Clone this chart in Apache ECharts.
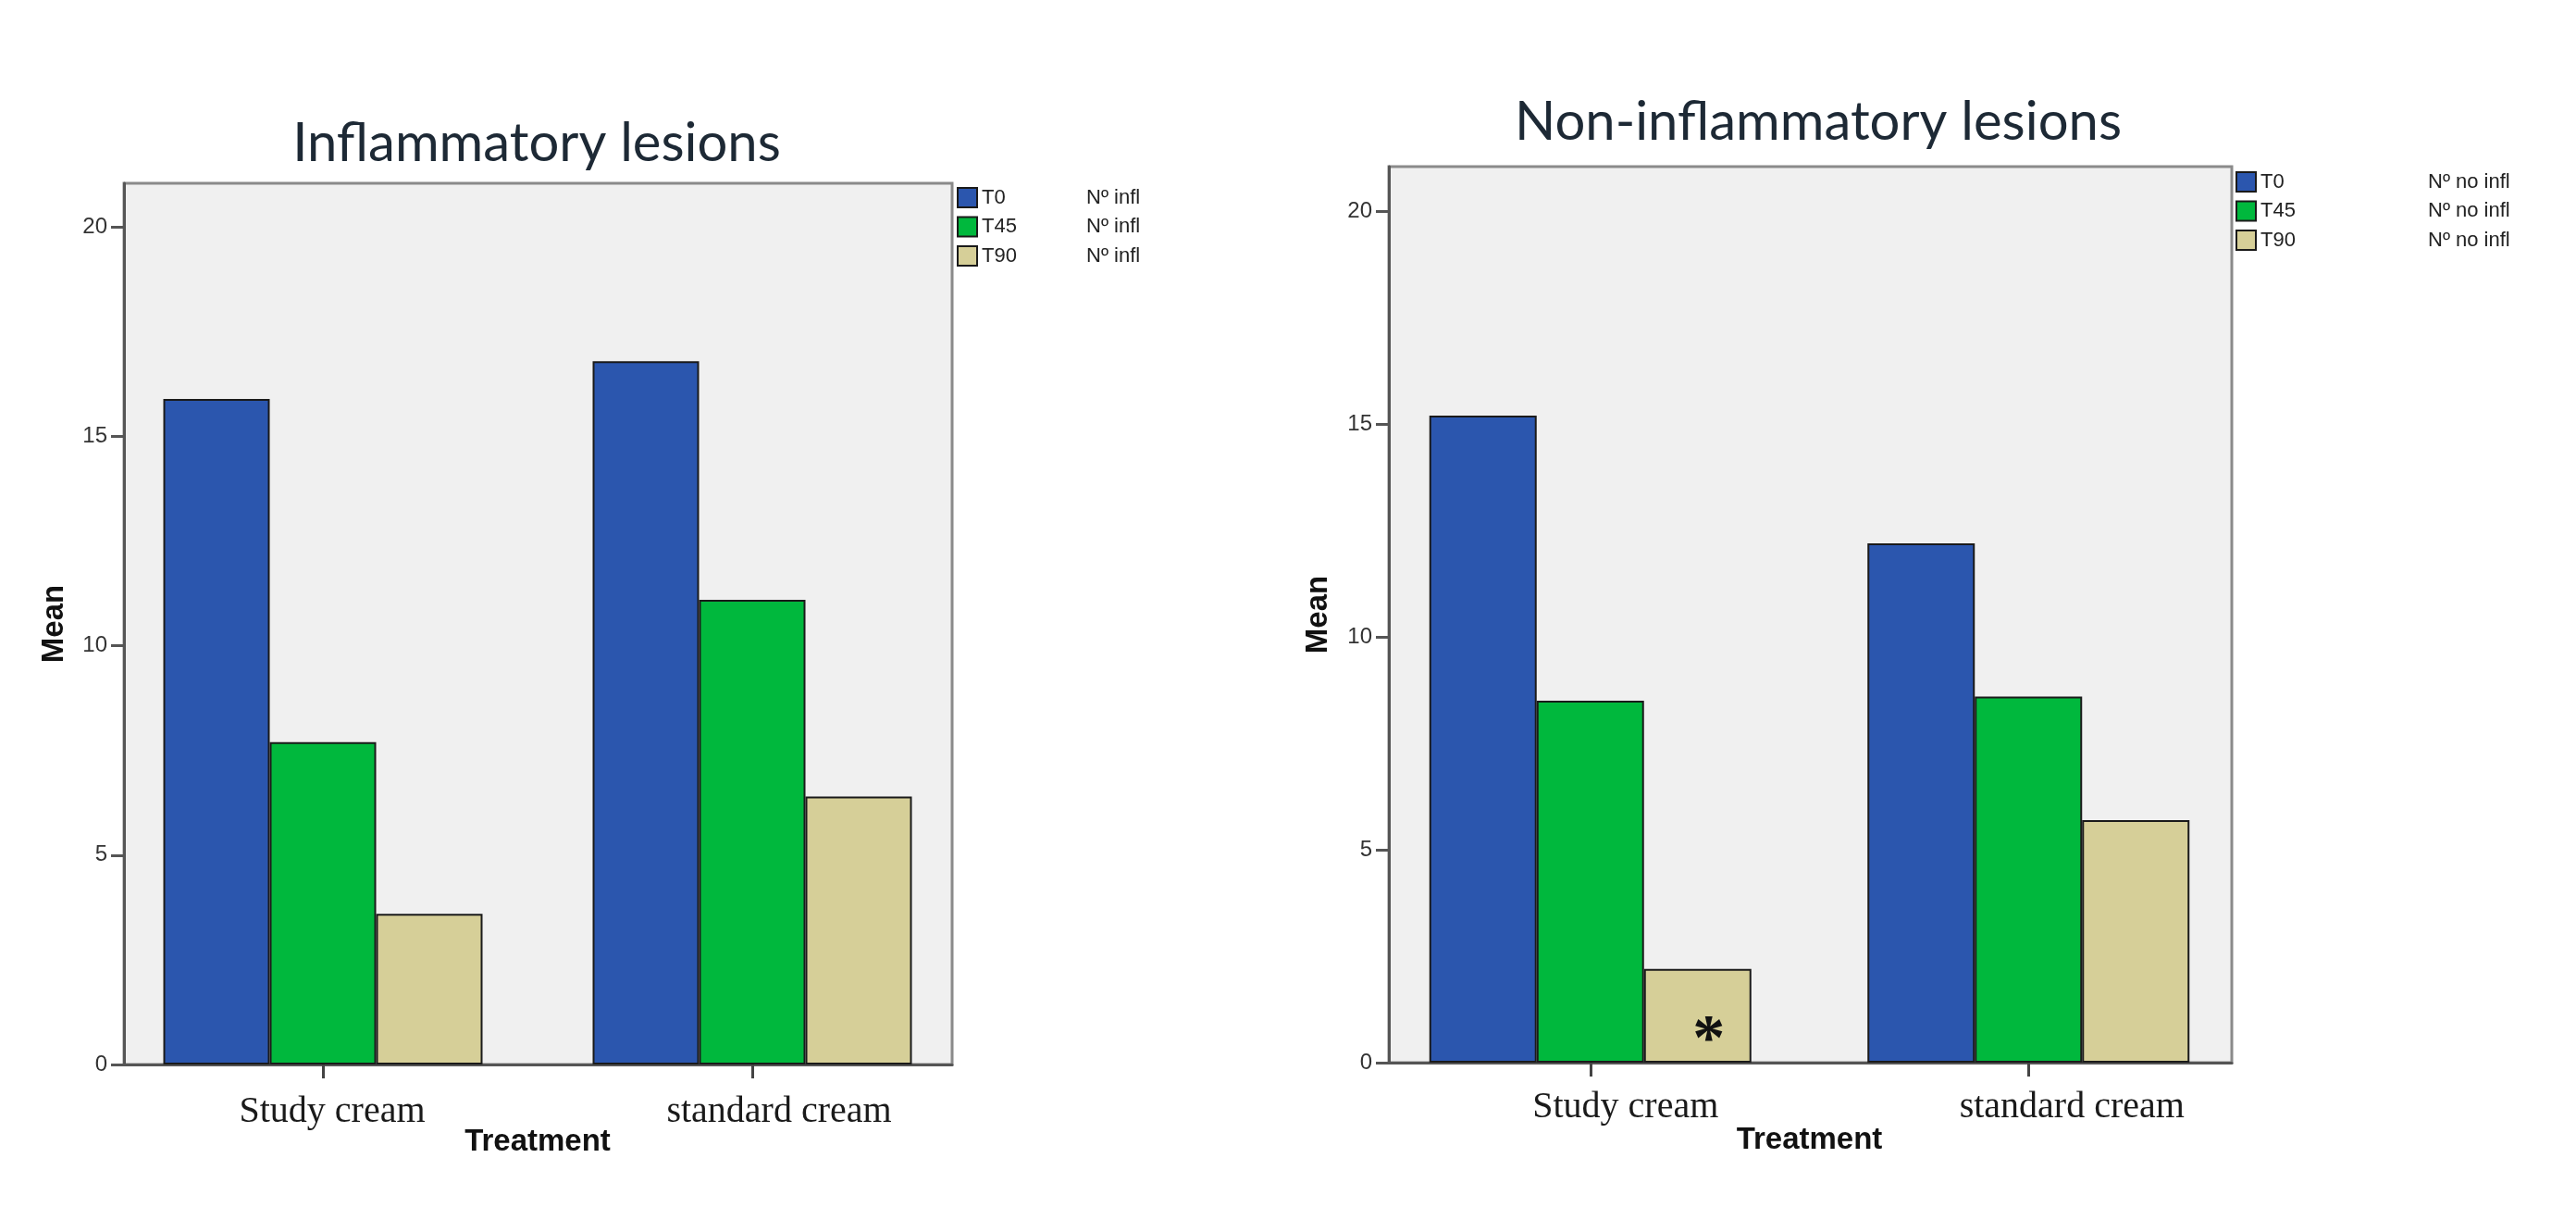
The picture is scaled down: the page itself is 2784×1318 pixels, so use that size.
<!DOCTYPE html>
<html><head><meta charset="utf-8">
<script src="https://cdn.jsdelivr.net/npm/echarts@6/dist/echarts.min.js"></script>
<style>html,body{margin:0;padding:0;background:#fff}#c{width:2784px;height:1318px}</style>
</head><body><div id="c"></div>
<script>
const categories = ['Study cream', 'standard cream'];
const seriesNames = ['T0', 'T45', 'T90'];
const inflT0 = [15.9, 16.8];
const inflT45 = [7.7, 11.1];
const inflT90 = [3.6, 6.4];
const nonInflT0 = [15.2, 12.2];
const nonInflT45 = [8.5, 8.6];
const nonInflT90 = [2.2, 5.7];
const nonInflT90Marks = ['*', ''];
const yTicks = [0, 5, 10, 15, 20];
const yMax = 21.05;
const titles = ['Inflammatory lesions', 'Non-inflammatory lesions'];
const legendSuffix = ['Nº infl', 'Nº no infl'];
const colors = ['#2b56ae', '#00b83d', '#d6cf98'];

const AX = '#555';
const sans = 'Liberation Sans, Arial, sans-serif';
const serif = 'Liberation Serif, Times New Roman, serif';

function frameX(i) {
  return { gridIndex: i, type: 'value', min: 0, max: 1,
    axisLine: { show: true, onZero: false, lineStyle: { color: AX, width: 3 } },
    axisTick: { show: false }, axisLabel: { show: false }, splitLine: { show: false } };
}
function frameY(i, gap) {
  return { gridIndex: i, type: 'value', min: 0, max: yMax, interval: 5,
    axisLine: { show: true, lineStyle: { color: AX, width: 3 } },
    axisTick: { show: true, customValues: yTicks, length: 14, lineStyle: { color: AX, width: 3 } },
    axisLabel: { customValues: yTicks, fontSize: 24, color: '#333', margin: 18, fontFamily: sans },
    splitLine: { show: false },
    name: 'Mean', nameLocation: 'middle', nameGap: gap, nameMoveOverlap: false,
    nameTextStyle: { fontSize: 33, fontWeight: 'bold', color: '#111', fontFamily: sans } };
}
function barX(i, margin, pads) {
  return { gridIndex: i, type: 'category', data: categories,
    axisLine: { show: false },
    axisTick: { show: true, alignWithLabel: true, length: 15, lineStyle: { color: '#444', width: 3 } },
    axisLabel: { margin: margin, interval: 0,
      formatter: (v, idx) => '{c' + idx + '|' + v + '}',
      rich: {
        c0: { fontSize: 40, fontFamily: serif, color: '#1a1a1a', lineHeight: 44, padding: [0, 0, 0, pads[0]] },
        c1: { fontSize: 40, fontFamily: serif, color: '#1a1a1a', lineHeight: 44, padding: [0, 0, 0, pads[1]] }
      } },
    name: 'Treatment', nameLocation: 'middle', nameGap: 67, nameMoveOverlap: false,
    nameTextStyle: { fontSize: 33, fontWeight: 'bold', color: '#111', fontFamily: sans } };
}
function barY(i) {
  return { gridIndex: i, type: 'value', min: 0, max: yMax, show: false, splitLine: { show: false } };
}
function bars(name, data, ci, xi, w) {
  return { type: 'bar', name: name, xAxisIndex: xi, yAxisIndex: xi, data: data,
    barWidth: w, barGap: '0%',
    itemStyle: { color: colors[ci], borderColor: '#1a1a1a', borderWidth: 2 } };
}
function legend(i, left, top, nameW) {
  return { orient: 'vertical', left: left, top: top, padding: 0, itemWidth: 21, itemHeight: 21, itemGap: 8.5,
    icon: 'rect', data: seriesNames, selectedMode: false,
    itemStyle: { borderColor: '#1a1a1a', borderWidth: 2 },
    formatter: n => '{n|' + n + '}{s|' + legendSuffix[i] + '}',
    textStyle: { fontSize: 22, color: '#222', fontFamily: sans,
      rich: { n: { width: nameW, fontSize: 22, fontFamily: sans, color: '#222' },
              s: { fontSize: 22, fontFamily: sans, color: '#222' } } } };
}

const t90b = nonInflT90.map((v, k) => ({
  value: v,
  label: { show: nonInflT90Marks[k] !== '', formatter: nonInflT90Marks[k], position: 'insideBottom',
    distance: -13, offset: [12, 0], fontSize: 70, fontWeight: 'bold', fontFamily: serif, color: '#111' }
}));

const option = {
  animation: false,
  backgroundColor: '#fff',
  title: [
    { text: titles[0], left: 580, top: 126, textAlign: 'center', padding: 0,
      textStyle: { fontSize: 58, fontWeight: 'normal', color: '#1d2935', fontFamily: 'Lato, sans-serif' } },
    { text: titles[1], left: 1965, top: 103, textAlign: 'center', padding: 0,
      textStyle: { fontSize: 58, fontWeight: 'normal', color: '#1d2935', fontFamily: 'Lato, sans-serif' } }
  ],
  legend: [legend(0, 1034, 202, 113), legend(1, 2416, 185, 181)],
  grid: [
    { left: 134, top: 198, width: 895, height: 952, show: true, backgroundColor: '#f0f0f0', borderColor: '#8a8a8a', borderWidth: 3 },
    { left: 117, top: 198, width: 928, height: 952 },
    { left: 1501, top: 180, width: 911, height: 968, show: true, backgroundColor: '#f0f0f0', borderColor: '#8a8a8a', borderWidth: 3 },
    { left: 1482, top: 180, width: 947, height: 968 }
  ],
  xAxis: [frameX(0), barX(1, 29, [20, 58]), frameX(2), barX(3, 26, [76, 94])],
  yAxis: [frameY(0, 59), barY(1), frameY(2, 60), barY(3)],
  series: [
    bars(seriesNames[0], inflT0, 0, 1, 115),
    bars(seriesNames[1], inflT45, 1, 1, 115),
    bars(seriesNames[2], inflT90, 2, 1, 115),
    bars(seriesNames[0], nonInflT0, 0, 3, 116),
    bars(seriesNames[1], nonInflT45, 1, 3, 116),
    bars(seriesNames[2], t90b, 2, 3, 116)
  ]
};
echarts.init(document.getElementById('c')).setOption(option);
</script></body></html>
